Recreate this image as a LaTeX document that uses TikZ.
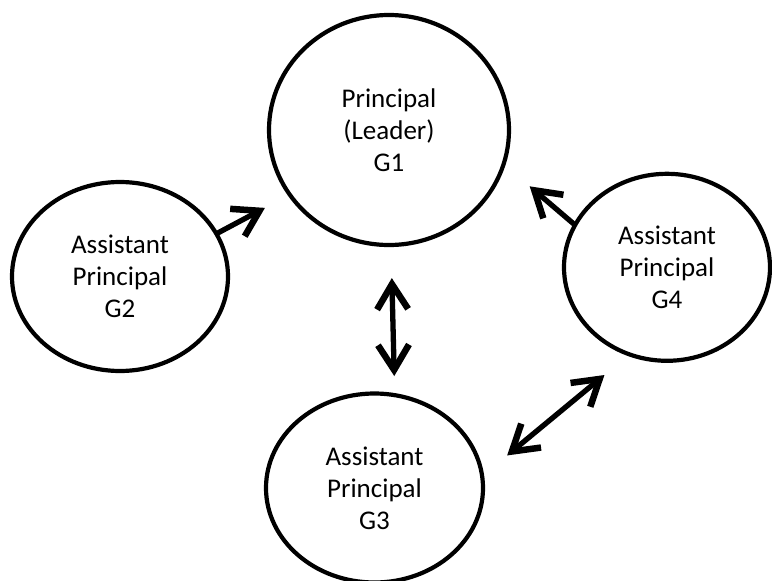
\documentclass[tikz,border=0pt]{standalone}
\usepackage{fontspec}
\setmainfont{Carlito}
\usetikzlibrary{shapes.geometric,arrows.meta}
\begin{document}
\begin{tikzpicture}[x=1pt,y=-1pt,line join=round,line cap=round,
		grp/.style={draw,ellipse,line width=4.2pt,inner sep=0pt,align=center,font={\fontsize{27}{32}\selectfont}},
		tip/.tip={Straight Barb[length=25pt,width=31pt,line width=6.5pt]},
		link/.style={line width=5.3pt,-tip},
		both/.style={line width=5.3pt,tip-tip}]
		\useasboundingbox (0,0) rectangle (772,581);
		\node[grp,minimum width=240pt,minimum height=230pt] (g1) at (389,130) {Principal\\(Leader)\\G1};
		\node[grp,minimum width=216pt,minimum height=189pt] (g2) at (120,276.5) {Assistant\\Principal\\G2};
		\node[grp,minimum width=217pt,minimum height=189pt] (g3) at (374.5,488) {Assistant\\Principal\\G3};
		\node[grp,minimum width=206pt,minimum height=187pt] (g4) at (667,267.3) {Assistant\\Principal\\G4};
		\draw[link,shorten >=26pt] (g2.24.6)--(g1.213.8);
		\draw[link,shorten >=32pt] (g4.155.2)--(g1.-17.5);
		\draw[both,shorten <=31pt,shorten >=17pt] (g1.-89.5)--(g3.78.3);
		\draw[both,shorten <=30pt,shorten >=30pt] (g3.7.3)--(g4.246.6);
		\end{tikzpicture}
\end{document}
